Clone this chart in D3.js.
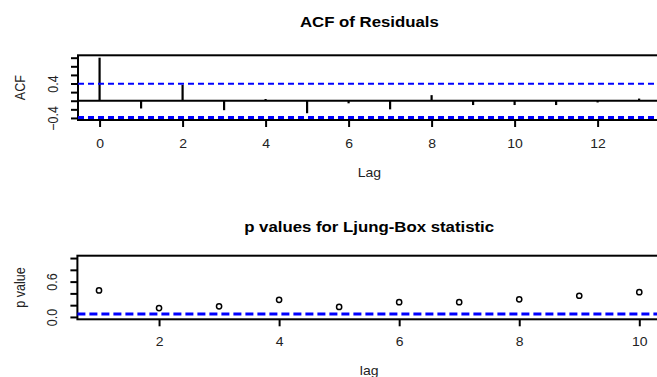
<!DOCTYPE html>
<html>
<head>
<meta charset="utf-8">
<script src="https://cdn.jsdelivr.net/npm/d3@7"></script>
<style>
  html, body { margin: 0; padding: 0; background: #fff; }
  svg { display: block; font-family: "Liberation Sans", Arial, sans-serif; }
</style>
</head>
<body>
<svg id="chart" width="657" height="377"></svg>
<script>
// Residual autocorrelations by lag
const acfLags = [0, 1, 2, 3, 4, 5, 6, 7, 8, 9, 10, 11, 12, 13];
const acfValues = [1.0, -0.18, 0.37, -0.22, 0.04, -0.29, -0.06, -0.20, 0.13, -0.10, -0.10, -0.10, -0.04, 0.05];
const acfBound = 0.392;                       // ±1.96/sqrt(n)
const acfXTicks = [0, 2, 4, 6, 8, 10, 12];
const acfYTicks = [-0.4, -0.2, 0, 0.2, 0.4, 0.6, 0.8, 1.0];
const acfYLabels = [-0.4, 0.4];

// Ljung-Box p-values by lag
const pLags = [1, 2, 3, 4, 5, 6, 7, 8, 9, 10];
const pValues = [0.45, 0.15, 0.18, 0.29, 0.17, 0.25, 0.25, 0.30, 0.36, 0.42];
const pLevel = 0.05;
const pXTicks = [2, 4, 6, 8, 10];
const pYTicks = [0, 0.2, 0.4, 0.6, 0.8, 1.0];
const pYLabels = [0.0, 0.6];

const svg = d3.select("#chart");
const sx = 1.12;            // slight horizontal stretch of the text
const labelColor = "#222";

// R-style 4% padded domain
function pad(lo, hi) { const e = (hi - lo) * 0.04; return [lo - e, hi + e]; }

function panel(opts) {
  const x = d3.scaleLinear().domain(opts.xDomain).range(opts.xRange);
  const y = d3.scaleLinear().domain(opts.yDomain).range(opts.yRange);
  const g = svg.append("g");
  const [x0, x1] = opts.xRange, [y0, y1] = opts.yRange; // y0 bottom, y1 top

  // bottom axis
  const xa = g.append("g").attr("transform", `translate(0,${y0})`)
    .call(d3.axisBottom(x).tickValues(opts.xTicks).tickSize(7).tickPadding(opts.xPad).tickFormat(d3.format("d")));
  xa.select(".domain").remove();
  xa.selectAll("line").attr("stroke", "#000").attr("stroke-width", 2);
  xa.selectAll("text").attr("font-size", 12.5).attr("fill", labelColor)
    .attr("transform", function () { return `scale(${sx},1)`; })
    .attr("x", function () { return 0; });
  xa.selectAll(".tick text").each(function () {
    d3.select(this).attr("transform", `scale(${sx},1)`);
  });

  // left axis with rotated labels
  const ya = g.append("g").attr("transform", `translate(${x0},0)`)
    .call(d3.axisLeft(y).tickValues(opts.yTicks).tickSize(7)
      .tickFormat(d => opts.yLabels.some(v => Math.abs(v - d) < 1e-9) ? d3.format(".1f")(d) : ""));
  ya.select(".domain").remove();
  ya.selectAll("line").attr("stroke", "#000").attr("stroke-width", 2);
  ya.selectAll("text").attr("font-size", 12.5).attr("fill", labelColor)
    .attr("x", 0).attr("dy", 0).attr("text-anchor", "middle")
    .attr("transform", `translate(-20,0) scale(${sx},1) rotate(-90)`);

  // frame
  g.append("rect").attr("x", x0).attr("y", y1).attr("width", x1 - x0).attr("height", y0 - y1)
    .attr("fill", "none").attr("stroke", "#000").attr("stroke-width", 2);

  // titles
  const cx = (x0 + x1) / 2;
  g.append("text").attr("transform", `translate(${cx},${opts.titleY}) scale(${sx},1)`)
    .attr("text-anchor", "middle").attr("font-size", 15).attr("font-weight", "bold").attr("fill", "#000")
    .text(opts.title);
  g.append("text").attr("transform", `translate(${cx},${opts.xLabelY}) scale(${sx},1)`)
    .attr("text-anchor", "middle").attr("font-size", 12.5).attr("fill", labelColor).text(opts.xLabel);
  g.append("text").attr("transform", `translate(25,${(y0 + y1) / 2}) scale(${sx},1) rotate(-90)`)
    .attr("text-anchor", "middle").attr("font-size", 12.5).attr("fill", labelColor).text(opts.yLabel);

  return { g, x, y };
}

// ---- ACF panel ----
const acf = panel({
  xDomain: pad(0, 13), xRange: [78, 660.7],
  yDomain: pad(-acfBound, 1.0), yRange: [120, 55.3],
  xTicks: acfXTicks, yTicks: acfYTicks, yLabels: acfYLabels, xPad: 12,
  title: "ACF of Residuals", titleY: 26.5, xLabel: "Lag", xLabelY: 177, yLabel: "ACF"
});
acf.g.append("line").attr("x1", acf.x.range()[0]).attr("x2", acf.x.range()[1])
  .attr("y1", acf.y(0)).attr("y2", acf.y(0)).attr("stroke", "#000").attr("stroke-width", 2);
acf.g.selectAll("line.bar").data(acfLags).enter().append("line").attr("class", "bar")
  .attr("x1", d => acf.x(d)).attr("x2", d => acf.x(d))
  .attr("y1", acf.y(0)).attr("y2", (d, i) => acf.y(acfValues[i]))
  .attr("stroke", "#000").attr("stroke-width", 2.2);
[acfBound, -acfBound].forEach((b, i) => {
  acf.g.append("line").attr("x1", acf.x.range()[0]).attr("x2", acf.x.range()[1])
    .attr("y1", acf.y(b)).attr("y2", acf.y(b))
    .attr("stroke", "#0000ff").attr("stroke-width", i === 0 ? 2 : 3).attr("stroke-dasharray", "6,4");
});

// ---- Ljung-Box p-value panel ----
const lb = panel({
  xDomain: pad(1, 10), xRange: [77.4, 660.9],
  yDomain: pad(0, 1), yRange: [319.3, 255.7],
  xTicks: pXTicks, yTicks: pYTicks, yLabels: pYLabels, xPad: 11,
  title: "p values for Ljung-Box statistic", titleY: 232, xLabel: "lag", xLabelY: 375, yLabel: "p value"
});
lb.g.append("line").attr("x1", lb.x.range()[0]).attr("x2", lb.x.range()[1])
  .attr("y1", lb.y(pLevel)).attr("y2", lb.y(pLevel))
  .attr("stroke", "#0000ff").attr("stroke-width", 3).attr("stroke-dasharray", "8,4");
lb.g.selectAll("circle").data(pLags).enter().append("circle")
  .attr("cx", d => lb.x(d)).attr("cy", (d, i) => lb.y(pValues[i])).attr("r", 2.6)
  .attr("fill", "none").attr("stroke", "#000").attr("stroke-width", 1.5);
</script>
</body>
</html>
